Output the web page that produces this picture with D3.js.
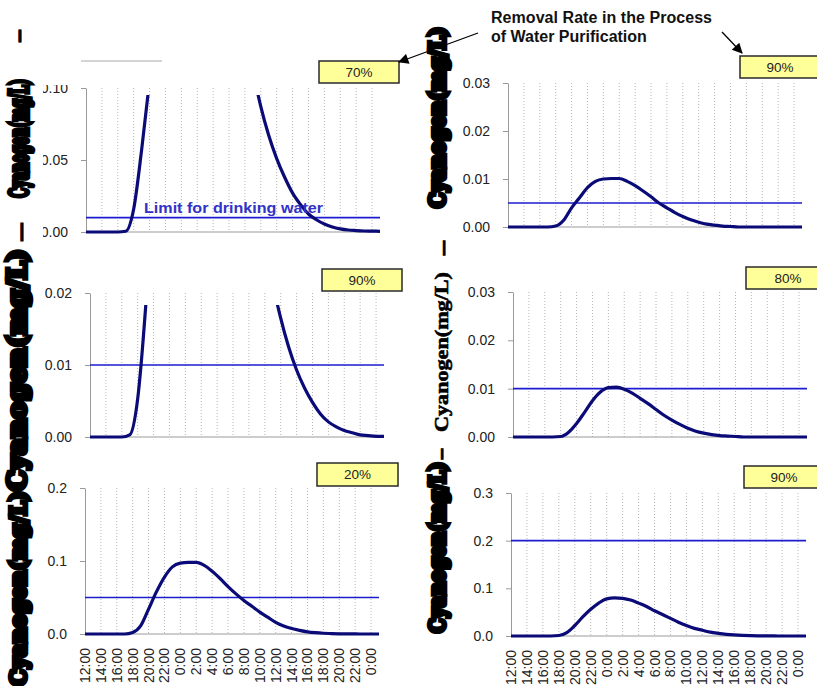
<!DOCTYPE html>
<html>
<head>
<meta charset="utf-8">
<script src="https://cdn.jsdelivr.net/npm/d3@7"></script>
<style>
	body { margin: 0; background: #fff; }
	svg { display: block; }
</style>
</head>
<body>
<svg id="chart" width="817" height="686"></svg>
<script>
'use strict'

/* ============================== Data ============================== */

// x categories: hours since 12:00 on day one, labels every 2 hours
const hours = d3.range(0, 38);
const timeLabels = ["12:00", "14:00", "16:00", "18:00", "20:00", "22:00", "0:00", "2:00", "4:00",
	"6:00", "8:00", "10:00", "12:00", "14:00", "16:00", "18:00", "20:00", "22:00", "0:00"];

// cyanogen (mg/L) per hour, one list per panel (left to right, top to bottom)
const cyanogenA = [0, 0, 0, 0, 0, 0.0005, 0.016, 0.057, 0.105, 0.16, 0.23, 0.29, 0.33, 0.35, 0.35, 0.33, 0.30, 0.26,
	0.22, 0.18, 0.145, 0.113, 0.087, 0.067, 0.051, 0.038, 0.027, 0.019, 0.0125, 0.0085, 0.0055, 0.0035, 0.0022,
	0.0014, 0.001, 0.0007, 0.0006, 0.0005];
const cyanogenB = [0, 0, 0, 0, 0, 0, 0.0002, 0.0014, 0.004, 0.0061, 0.0082, 0.0095, 0.0100, 0.0101, 0.0101, 0.0095,
	0.0086, 0.0075, 0.0063, 0.0050, 0.0040, 0.0030, 0.0022, 0.0015, 0.0010, 0.0006, 0.0004, 0.0002, 0.0001,
	0, 0, 0, 0, 0, 0, 0, 0, 0];
const cyanogenC = [0, 0, 0, 0, 0, 0.0003, 0.0053, 0.018, 0.035, 0.053, 0.077, 0.10, 0.113, 0.117, 0.117, 0.11, 0.10,
	0.087, 0.073, 0.06, 0.047, 0.037, 0.029, 0.0215, 0.0165, 0.0125, 0.0093, 0.0068, 0.0048, 0.0032, 0.0021,
	0.0014, 0.0009, 0.0006, 0.0003, 0.0002, 0.0001, 0.0001];
const cyanogenD = [0, 0, 0, 0, 0, 0, 0.0001, 0.001, 0.0028, 0.0051, 0.0075, 0.0093, 0.0102, 0.0103, 0.0099, 0.0091,
	0.0080, 0.0069, 0.0057, 0.0045, 0.0035, 0.0026, 0.0018, 0.0012, 0.0008, 0.0005, 0.0003, 0.0002, 0.0001,
	0, 0, 0, 0, 0, 0, 0, 0, 0];
const cyanogenE = [0, 0, 0, 0, 0, 0, 0.002, 0.011, 0.034, 0.058, 0.078, 0.092, 0.097, 0.098, 0.098, 0.094, 0.086,
	0.076, 0.065, 0.055, 0.046, 0.038, 0.030, 0.023, 0.016, 0.011, 0.0075, 0.005, 0.003, 0.0018, 0.001, 0.0006,
	0.0003, 0.0002, 0.0001, 0, 0, 0];
const cyanogenF = [0, 0, 0, 0, 0, 0, 0.001, 0.007, 0.022, 0.040, 0.056, 0.069, 0.078, 0.080, 0.079, 0.0755, 0.069,
	0.062, 0.053, 0.045, 0.037, 0.029, 0.022, 0.016, 0.012, 0.008, 0.0055, 0.0035, 0.0022, 0.0013, 0.0007,
	0.0004, 0.0002, 0.0001, 0, 0, 0, 0];

const removalRates = ["70%", "90%", "90%", "80%", "20%", "90%"];
const drinkingLimits = [0.01, 0.005, 0.01, 0.01, 0.05, 0.2];
const yMaxes = [0.10, 0.03, 0.02, 0.03, 0.2, 0.3];
const yTickSteps = [0.05, 0.01, 0.01, 0.01, 0.1, 0.1];
const yFormats = [".2f", ".2f", ".2f", ".2f", ".1f", ".1f"];

const seriesList = [cyanogenA, cyanogenB, cyanogenC, cyanogenD, cyanogenE, cyanogenF];

/* =================================== Layout ==================================== */

// plot frames in pixels, clipTop is where the tall curves get cut off
const frames = [
	{ x0: 86, x1: 380, y0: 88, y1: 232, clipTop: 95, box: [319, 61, 80, 22], bottomRow: false },
	{ x0: 508, x1: 802, y0: 83, y1: 227, clipTop: 83, box: [740, 56, 80, 22], bottomRow: false },
	{ x0: 90, x1: 384, y0: 293, y1: 437, clipTop: 305, box: [322, 269, 80, 22], bottomRow: false },
	{ x0: 513, x1: 807, y0: 292, y1: 437, clipTop: 292, box: [746, 267, 84, 22], bottomRow: false },
	{ x0: 85, x1: 379, y0: 488, y1: 634, clipTop: 488, box: [317, 463, 81, 23], bottomRow: true },
	{ x0: 511, x1: 806, y0: 493, y1: 636, clipTop: 493, box: [744, 466, 80, 22], bottomRow: true }
];

const sansFont = "'Liberation Sans', Arial, sans-serif";
const serifFont = "'Liberation Serif', 'DejaVu Serif', serif";
const curveColor = "#0b0b78";
const limitColor = "#1c1cd0";

const svg = d3.select('#chart');
const defs = svg.append('defs');

defs.append('marker')
	.attr('id', 'arrowHead')
	.attr('viewBox', '0 0 10 10')
	.attr('refX', 9).attr('refY', 5)
	.attr('markerWidth', 9).attr('markerHeight', 8)
	.attr('orient', 'auto')
	.append('path')
	.attr('d', 'M0,0L10,5L0,10z')
	.attr('fill', '#000');

/* ================================ Panel drawing ================================= */

function drawPanel(i) {
	const f = frames[i];
	const g = svg.append('g').attr('class', 'panel-' + i);

	const x = d3.scaleLinear().domain([0, 37]).range([f.x0, f.x1]);
	const y = d3.scaleLinear().domain([0, yMaxes[i]]).range([f.y1, f.y0]);

	// dotted vertical grid, one per time label
	timeLabels.forEach(function(lbl, k) {
		if (k === 0) return;
		g.append('line')
			.attr('x1', x(k * 2)).attr('x2', x(k * 2))
			.attr('y1', f.y0).attr('y2', f.y1)
			.attr('stroke', '#b5b5b5')
			.attr('stroke-width', 1)
			.attr('stroke-dasharray', '1,2');
	});

	// y axis
	const ticks = d3.range(0, yMaxes[i] + yTickSteps[i] / 2, yTickSteps[i]);
	const yAxis = d3.axisLeft(y)
		.tickValues(ticks)
		.tickSize(5)
		.tickSizeOuter(0)
		.tickPadding(13)
		.tickFormat(d3.format(yFormats[i]));
	const ag = g.append('g')
		.attr('transform', 'translate(' + f.x0 + ',0)')
		.call(yAxis);
	ag.select('.domain').attr('stroke', '#9a9a9a');
	ag.selectAll('.tick line').attr('stroke', '#9a9a9a');
	ag.selectAll('.tick text')
		.attr('fill', '#222')
		.style('font-family', sansFont)
		.style('font-size', '14px');

	// bottom axis line
	g.append('line')
		.attr('x1', f.x0).attr('x2', f.x1)
		.attr('y1', f.y1).attr('y2', f.y1)
		.attr('stroke', '#9a9a9a');

	// drinking water limit
	g.append('line')
		.attr('x1', f.x0).attr('x2', f.x1)
		.attr('y1', y(drinkingLimits[i])).attr('y2', y(drinkingLimits[i]))
		.attr('stroke', limitColor)
		.attr('stroke-width', 1.6);

	// concentration curve, clipped where it leaves the frame
	defs.append('clipPath').attr('id', 'clip' + i)
		.append('rect')
		.attr('x', f.x0 - 2).attr('y', f.clipTop)
		.attr('width', f.x1 - f.x0 + 4).attr('height', f.y1 - f.clipTop + 4);

	const line = d3.line()
		.x(function(d) { return x(d); })
		.y(function(d) { return y(seriesList[i][d]); })
		.curve(d3.curveMonotoneX);

	g.append('path')
		.datum(hours)
		.attr('d', line)
		.attr('clip-path', 'url(#clip' + i + ')')
		.attr('fill', 'none')
		.attr('stroke', curveColor)
		.attr('stroke-width', 3.2)
		.attr('stroke-linejoin', 'round');

	// removal rate box
	const b = f.box;
	g.append('rect')
		.attr('x', b[0]).attr('y', b[1])
		.attr('width', b[2]).attr('height', b[3])
		.attr('fill', '#ffff99')
		.attr('stroke', '#2a2a2a')
		.attr('stroke-width', 1.5);
	g.append('text')
		.attr('x', b[0] + b[2] / 2).attr('y', b[1] + b[3] / 2)
		.attr('text-anchor', 'middle')
		.attr('dominant-baseline', 'central')
		.attr('fill', '#222')
		.style('font-family', sansFont)
		.style('font-size', '13.5px')
		.text(removalRates[i]);

	// rotated time labels under the bottom row
	if (f.bottomRow) {
		timeLabels.forEach(function(lbl, k) {
			g.append('text')
				.attr('transform', 'translate(' + x(k * 2) + ',' + (f.y1 + 14) + ') rotate(-90)')
				.attr('text-anchor', 'end')
				.attr('dominant-baseline', 'central')
				.attr('fill', '#222')
				.style('font-family', sansFont)
				.style('font-size', '14px')
				.text(lbl);
		});
	}
}

frames.forEach(function(f, i) { drawPanel(i); });

/* ============================== Annotations ================================= */

// the top left tick labels are partly covered in the source
svg.append('rect').attr('x', 31).attr('y', 60).attr('width', 12).attr('height', 180).attr('fill', '#fff');
svg.append('rect').attr('x', 31).attr('y', 62).attr('width', 50).attr('height', 23).attr('fill', '#fff');
svg.append('line')
	.attr('x1', 81).attr('x2', 162).attr('y1', 61).attr('y2', 61)
	.attr('stroke', '#aaa');

svg.append('text')
	.attr('x', 144).attr('y', 213)
	.attr('textLength', 179)
	.attr('lengthAdjust', 'spacingAndGlyphs')
	.attr('fill', '#3232c6')
	.style('font-family', sansFont)
	.style('font-size', '15.5px')
	.style('font-weight', 'bold')
	.text('Limit for drinking water');

const note = svg.append('text')
	.style('font-family', sansFont)
	.style('font-size', '16px')
	.style('font-weight', 'bold')
	.attr('fill', '#111');
note.append('tspan').attr('x', 491).attr('y', 23).attr('textLength', 221).text('Removal Rate in the Process');
note.append('tspan').attr('x', 491).attr('y', 42).text('of Water Purification');

svg.append('line')
	.attr('x1', 478).attr('y1', 33).attr('x2', 399).attr('y2', 62)
	.attr('stroke', '#000').attr('stroke-width', 1.3)
	.attr('marker-end', 'url(#arrowHead)');
svg.append('line')
	.attr('x1', 722).attr('y1', 32).attr('x2', 742).attr('y2', 53)
	.attr('stroke', '#000').attr('stroke-width', 1.3)
	.attr('marker-end', 'url(#arrowHead)');

// y axis title between the columns
svg.append('text')
	.attr('transform', 'translate(441,352) rotate(-90)')
	.attr('text-anchor', 'middle')
	.attr('dominant-baseline', 'central')
	.attr('textLength', 160)
	.attr('lengthAdjust', 'spacingAndGlyphs')
	.attr('fill', '#000')
	.attr('stroke', '#000')
	.attr('stroke-width', 0.6)
	.style('font-family', serifFont)
	.style('font-weight', 'bold')
	.style('font-size', '19px')
	.text('Cyanogen(mg/L)');

// smeared copies of the axis title, rendered as heavy black blobs in the source
const smears = [
	[18, 29, 43, 8], [19, 79, 198, 22], [20, 222, 242, 8], [17, 249, 491, 22], [17, 491, 686, 20],
	[437, 27, 208, 19], [442, 240, 256, 6], [440, 448, 460, 6], [437, 462, 633, 19]
];
smears.forEach(function(s) {
	const small = s[3] < 10;
	svg.append('text')
		.attr('transform', 'translate(' + s[0] + ',' + ((s[1] + s[2]) / 2) + ') rotate(-90)')
		.attr('text-anchor', 'middle')
		.attr('dominant-baseline', 'central')
		.attr('textLength', s[2] - s[1])
		.attr('lengthAdjust', 'spacingAndGlyphs')
		.attr('fill', '#000')
		.attr('stroke', '#000')
		.attr('stroke-width', small ? 1 : 4.5)
		.style('font-family', "'DejaVu Serif', serif")
		.style('font-weight', 'bold')
		.style('font-size', (small ? s[3] * 2.4 : s[3] * 1.15) + 'px')
		.text(small ? '\u2014' : 'Cyanogen(mg/L)');
});
</script>
</body>
</html>
